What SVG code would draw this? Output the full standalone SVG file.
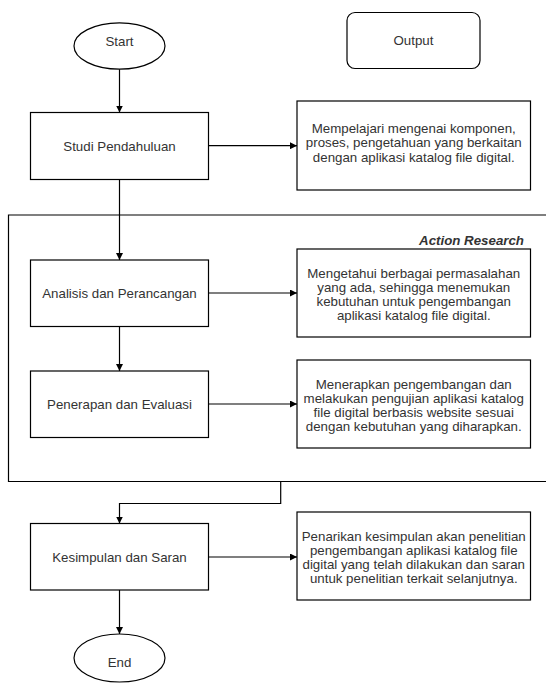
<svg xmlns="http://www.w3.org/2000/svg" width="546" height="686" viewBox="0 0 546 686">
<defs>
<marker id="arr" viewBox="0 0 10 10" refX="10" refY="5" markerWidth="7" markerHeight="7" markerUnits="userSpaceOnUse" orient="auto">
<path d="M0,0 L10,5 L0,10 Z" fill="#000"/>
</marker>
<style>
.box{fill:#fff;stroke:#000;stroke-width:1.2}
.lbl{font-family:"Liberation Sans",Arial,sans-serif;font-size:13.3px;fill:#333;text-anchor:middle}
.con{fill:none;stroke:#000;stroke-width:1.2}
.arr{marker-end:url(#arr)}
</style>
</defs>
<rect width="546" height="686" fill="#fff"/>

<g id="action-research">
<path d="M546,215 H8.5 V481.5 H546" class="con"/>
<text x="524" y="245" style="font-family:'Liberation Sans',Arial,sans-serif;font-size:13.3px;font-weight:bold;font-style:italic;fill:#333;text-anchor:end">Action Research</text>
</g>

<g id="connectors">
<path class="con arr" d="M119.5,69 V112.5"/>
<path class="con arr" d="M208.5,145.7 H297"/>
<path class="con arr" d="M119.5,179.5 V260"/>
<path class="con arr" d="M208.5,293 H297"/>
<path class="con arr" d="M119.5,326.5 V371"/>
<path class="con arr" d="M208.5,404 H297"/>
<path class="con arr" d="M280.7,481.5 V503.5 H119.5 V523.5"/>
<path class="con arr" d="M208.5,557 H297"/>
<path class="con arr" d="M119.5,590 V634"/>
</g>

<g id="start">
<ellipse cx="119.5" cy="46" rx="45.5" ry="23.2" class="box"/>
<text x="119.5" y="46" class="lbl">Start</text>
</g>

<g id="output-legend">
<rect x="347" y="12.5" width="133" height="56" rx="8" class="box"/>
<text x="413.5" y="45" class="lbl">Output</text>
</g>

<g id="studi">
<rect x="30.5" y="112.5" width="178" height="67" class="box"/>
<text x="119.5" y="150.5" class="lbl">Studi Pendahuluan</text>
</g>

<g id="out-studi">
<rect x="297" y="101" width="233.5" height="89" class="box"/>
<text class="lbl"><tspan x="413.75" y="133">Mempelajari mengenai komponen,</tspan><tspan x="413.75" y="147.3">proses, pengetahuan yang berkaitan</tspan><tspan x="413.75" y="161.6">dengan aplikasi katalog file digital.</tspan></text>
</g>

<g id="analisis">
<rect x="30.5" y="260" width="178" height="66.5" class="box"/>
<text x="119.5" y="298" class="lbl">Analisis dan Perancangan</text>
</g>

<g id="out-analisis">
<rect x="297" y="249" width="233.5" height="88" class="box"/>
<text class="lbl"><tspan x="413.75" y="277.5">Mengetahui berbagai permasalahan</tspan><tspan x="413.75" y="291.5">yang ada, sehingga menemukan</tspan><tspan x="413.75" y="305.5">kebutuhan untuk pengembangan</tspan><tspan x="413.75" y="319.5">aplikasi katalog file digital.</tspan></text>
</g>

<g id="penerapan">
<rect x="30.5" y="371" width="178" height="66.5" class="box"/>
<text x="119.5" y="409" class="lbl">Penerapan dan Evaluasi</text>
</g>

<g id="out-penerapan">
<rect x="297" y="360" width="233.5" height="88" class="box"/>
<text class="lbl"><tspan x="413.75" y="388.5">Menerapkan pengembangan dan</tspan><tspan x="413.75" y="402.5">melakukan pengujian aplikasi katalog</tspan><tspan x="413.75" y="416.5">file digital berbasis website sesuai</tspan><tspan x="413.75" y="430.5">dengan kebutuhan yang diharapkan.</tspan></text>
</g>

<g id="kesimpulan">
<rect x="30.5" y="523.5" width="178" height="66.5" class="box"/>
<text x="119.5" y="561.5" class="lbl">Kesimpulan dan Saran</text>
</g>

<g id="out-kesimpulan">
<rect x="297" y="512" width="233.5" height="88" class="box"/>
<text class="lbl"><tspan x="413.75" y="540.5">Penarikan kesimpulan akan penelitian</tspan><tspan x="413.75" y="554.5">pengembangan aplikasi katalog file</tspan><tspan x="413.75" y="568.5">digital yang telah dilakukan dan saran</tspan><tspan x="413.75" y="582.5">untuk penelitian terkait selanjutnya.</tspan></text>
</g>

<g id="end">
<ellipse cx="119.5" cy="658" rx="45.5" ry="24" class="box"/>
<text x="119.5" y="667" class="lbl">End</text>
</g>
</svg>
